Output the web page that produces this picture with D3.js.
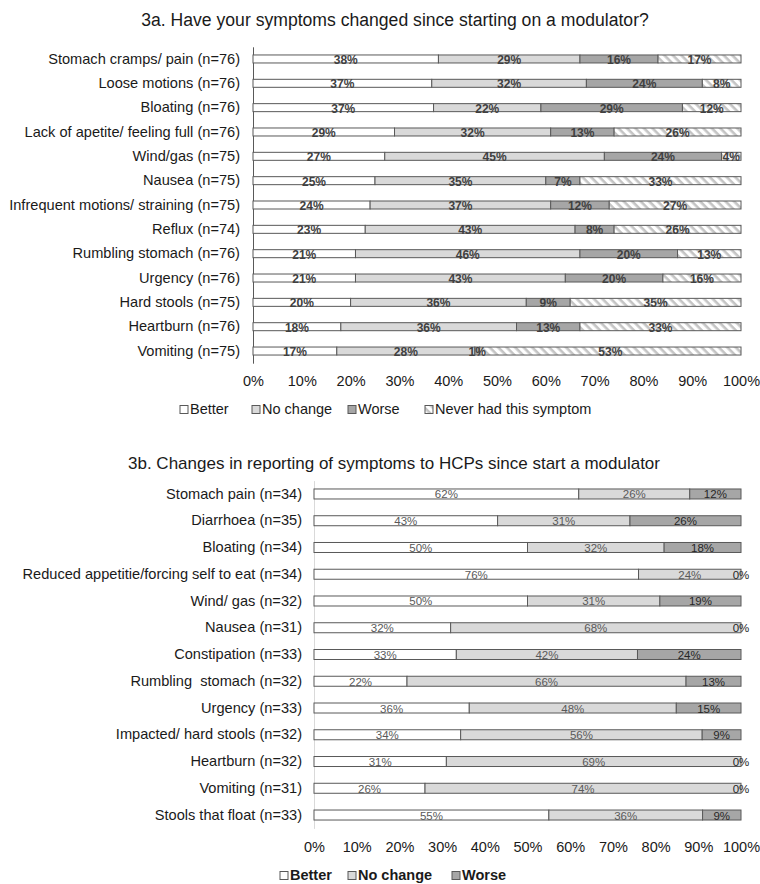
<!DOCTYPE html>
<html><head><meta charset="utf-8">
<script src="https://cdn.jsdelivr.net/npm/d3@7"></script>
<style>
html,body{margin:0;padding:0;background:#fff;}
svg{display:block;font-family:"Liberation Sans",Arial,sans-serif;}
</style></head>
<body>
<svg id="chart" width="760" height="884"></svg>
<script>
// ---- Data: chart 3a ----
const catsA = ["Stomach cramps/ pain (n=76)", "Loose motions (n=76)", "Bloating (n=76)", "Lack of apetite/ feeling full (n=76)", "Wind/gas (n=75)", "Nausea (n=75)", "Infrequent motions/ straining (n=75)", "Reflux (n=74)", "Rumbling stomach (n=76)", "Urgency (n=76)", "Hard stools (n=75)", "Heartburn (n=76)", "Vomiting (n=75)"];
const betterA   = [38,37,37,29,27,25,24,23,21,21,20,18,17];
const noChangeA = [29,32,22,32,45,35,37,43,46,43,36,36,28];
const worseA    = [16,24,29,13,24,7,12,8,20,20,9,13,1];
const neverA    = [17,8,12,26,4,33,27,26,13,16,35,33,53];
const seriesA = ["Better","No change","Worse","Never had this symptom"];

// ---- Data: chart 3b ----
const catsB = ["Stomach pain (n=34)","Diarrhoea (n=35)","Bloating (n=34)","Reduced appetitie/forcing self to eat (n=34)","Wind/ gas (n=32)","Nausea (n=31)","Constipation (n=33)","Rumbling  stomach (n=32)","Urgency (n=33)","Impacted/ hard stools (n=32)","Heartburn (n=32)","Vomiting (n=31)","Stools that float (n=33)"];
const betterB   = [62,43,50,76,50,32,33,22,36,34,31,26,55];
const noChangeB = [26,31,32,24,31,68,42,66,48,56,69,74,36];
const worseB    = [12,26,18,0,19,0,24,13,15,9,0,0,9];
const seriesB = ["Better","No change","Worse"];

const ticks = [0,0.1,0.2,0.3,0.4,0.5,0.6,0.7,0.8,0.9,1];

const titleA = "3a. Have your symptoms changed since starting on a modulator?";
const titleB = "3b. Changes in reporting of symptoms to HCPs since start a modulator";

const svg = d3.select("#chart");
const defs = svg.append("defs");
const pat = defs.append("pattern").attr("id","hatch").attr("patternUnits","userSpaceOnUse")
  .attr("width",6).attr("height",6).attr("patternTransform","rotate(45)");
pat.append("rect").attr("width",6).attr("height",6).attr("fill","#ffffff");
pat.append("rect").attr("x",0).attr("y",0).attr("width",6).attr("height",2.6).attr("fill","#c4c4c4");

const fills = {"Better":"#ffffff","No change":"#d9d9d9","Worse":"#a6a6a6","Never had this symptom":"url(#hatch)"};
const fmt = d3.format(".0%");

function drawChart(cfg){
  const rows = cfg.cats.map((c,i)=>{
    const o = {cat:c};
    cfg.series.forEach((s,j)=>o[s]=cfg.values[j][i]);
    return o;
  });
  const stack = d3.stack().keys(cfg.series).offset(d3.stackOffsetExpand);
  const layers = stack(rows);
  const x = d3.scaleLinear().domain([0,1]).range([cfg.x0,cfg.x1]);
  const y = d3.scaleBand().domain(cfg.cats).range([cfg.y0,cfg.y1]).paddingInner(0).paddingOuter(0);
  const g = svg.append("g");

  // title
  g.append("text").attr("x",cfg.titleX).attr("y",cfg.titleY).attr("text-anchor","middle")
    .attr("font-size",cfg.titleSize).attr("fill","#1a1a1a").text(cfg.title);

  // category axis (labels)
  const yAxis = d3.axisLeft(y).tickSize(0).tickPadding(cfg.labelPad);
  const ya = g.append("g").attr("transform",`translate(${cfg.x0},0)`).call(yAxis);
  ya.select(".domain").attr("stroke",cfg.axisColor).attr("stroke-width",1);
  ya.selectAll("text").attr("font-size",cfg.labelSize).attr("fill","#1a1a1a")
    .attr("font-family","'Liberation Sans',Arial,sans-serif").style("white-space","pre");

  // bars
  layers.forEach(layer=>{
    const key = layer.key;
    g.append("g").selectAll("rect").data(layer).join("rect")
      .attr("x",d=>x(d[0])).attr("width",d=>x(d[1])-x(d[0]))
      .attr("y",d=>y(d.data.cat)+y.bandwidth()/2-cfg.barH/2).attr("height",cfg.barH)
      .attr("fill",fills[key]).attr("stroke","#595959").attr("stroke-width",1);
  });
  // labels
  layers.forEach(layer=>{
    const key = layer.key;
    g.append("g").selectAll("text").data(layer).join("text")
      .attr("x",d=>(x(d[0])+x(d[1]))/2)
      .attr("y",d=>y(d.data.cat)+y.bandwidth()/2+cfg.labelDy)
      .attr("text-anchor","middle")
      .attr("font-size",cfg.valSize).attr("font-weight",cfg.valWeight)
      .attr("fill",key==="Worse"?cfg.worseColor:cfg.valColor)
      .text(d=>d.data[key]+"%");
  });

  // value axis
  const xAxis = d3.axisBottom(x).tickValues(ticks).tickFormat(fmt).tickSize(0).tickPadding(0);
  const xa = g.append("g").attr("transform",`translate(0,${cfg.tickY})`).call(xAxis);
  xa.select(".domain").remove();
  xa.selectAll("text").attr("font-size",14.5).attr("fill","#1a1a1a")
    .attr("font-family","'Liberation Sans',Arial,sans-serif").attr("dy","0");

  // legend
  const lg = g.append("g").attr("transform",`translate(0,${cfg.legY})`);
  cfg.series.forEach((s,i)=>{
    const lx = cfg.legX[i];
    lg.append("rect").attr("x",lx).attr("y",-8.5).attr("width",8).attr("height",8)
      .attr("fill",fills[s]).attr("stroke","#595959").attr("stroke-width",1);
    lg.append("text").attr("x",lx+10).attr("y",0).attr("font-size",cfg.legSize)
      .attr("font-weight",cfg.legWeight).attr("fill","#1a1a1a").text(s);
  });
}

drawChart({
  cats:catsA, series:seriesA, values:[betterA,noChangeA,worseA,neverA],
  x0:253, x1:741, y0:46.8, y1:363.2, barH:8,
  title:titleA, titleX:395, titleY:26, titleSize:17.6,
  axisColor:"#595959", labelPad:13, labelSize:14.6,
  valSize:12, valWeight:"bold", valColor:"#404040", worseColor:"#404040", labelDy:5,
  tickY:386, legY:414, legX:[180,252,348,425], legSize:14.5, legWeight:"normal"
});

drawChart({
  cats:catsB, series:seriesB, values:[betterB,noChangeB,worseB],
  x0:314, x1:741, y0:480.6, y1:828.4, barH:10,
  title:titleB, titleX:394, titleY:469, titleSize:17,
  axisColor:"#d9d9d9", labelPad:12, labelSize:14.6,
  valSize:11.5, valWeight:"normal", valColor:"#595959", worseColor:"#262626", labelDy:4.5,
  tickY:852, legY:880, legX:[280,348,452], legSize:14.5, legWeight:"bold"
});
</script>
</body></html>
